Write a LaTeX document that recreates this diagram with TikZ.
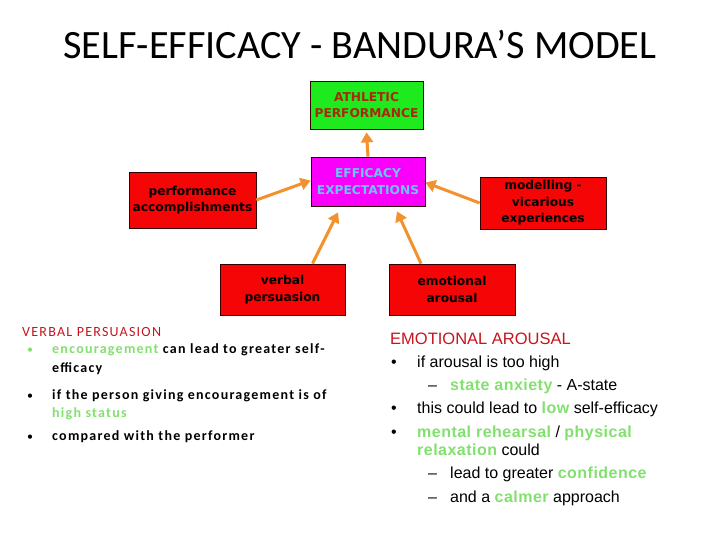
\documentclass[tikz,border=0pt]{standalone}
\usepackage{fontspec}
\setmainfont{Carlito}
\newfontfamily\boxfont{DejaVu Sans}
\newfontfamily\tahfont{Liberation Sans}
\newfontfamily\tahbfont[LetterSpace=3]{Liberation Sans}
\newfontfamily\lfont[LetterSpace=9]{Carlito}
\newfontfamily\lhfont[LetterSpace=9]{Carlito}
\usetikzlibrary{arrows.meta,calc}
\definecolor{boxred}{RGB}{245,5,5}
\definecolor{boxgreen}{RGB}{30,235,30}
\definecolor{boxmag}{RGB}{250,0,250}
\definecolor{arrorange}{RGB}{242,145,45}
\definecolor{athtext}{RGB}{170,40,10}
\definecolor{efftext}{RGB}{100,200,255}
\definecolor{headred}{RGB}{200,20,30}
\definecolor{hlgreen}{RGB}{130,225,110}
\tikzset{
  x=1pt,y=-1pt,
  box/.style={draw=black!80!red,line width=0.8pt,fill=boxred,align=center,
    font=\boxfont\bfseries\fontsize{12.2}{16.5}\selectfont,inner sep=0pt},
  arr/.style={draw=arrorange,line width=3pt,-{Triangle[length=10pt,width=12pt]}},
  ltxt/.style={anchor=base west,inner sep=0pt,font=\lfont\fontsize{14}{15}\selectfont\bfseries},
  lbul/.style={anchor=base west,inner sep=0pt,font=\fontsize{12}{15}\selectfont},
  rtxt/.style={anchor=base west,inner sep=0pt,font=\tahfont\fontsize{16}{18}\selectfont},
}
\newcommand{\hl}[1]{\textcolor{hlgreen}{#1}}
\newcommand{\hlb}[1]{\textcolor{hlgreen}{\tahbfont\bfseries #1}}
\begin{document}
\begin{tikzpicture}
\useasboundingbox[fill=white] (0,0) rectangle (720,540);
\node[anchor=base,inner sep=0pt,font=\fontsize{40.2}{42}\selectfont] (title) at (360,59) {SELF-EFFICACY - BANDURA’S MODEL};

\node[box,fill=boxgreen,text=athtext,minimum width=113pt,minimum height=48pt] (ath) at (366.5,105) {ATHLETIC\\PERFORMANCE};
\node[box,fill=boxmag,text=efftext,minimum width=114pt,minimum height=49pt] (eff) at (368,181.5) {EFFICACY\\EXPECTATIONS};
\node[box,minimum width=127pt,minimum height=56pt] (perf) at (192.5,200) {performance\\accomplishments};
\node[box,minimum width=126pt,minimum height=52pt] (model) at (543,203) {modelling -\\vicarious\\experiences};
\node[box,minimum width=125pt,minimum height=51pt] (verbal) at (282.5,289.5) {verbal\\persuasion};
\node[box,minimum width=126pt,minimum height=51pt] (emo) at (452,289.5) {emotional\\arousal};

\draw[arr] (eff.north) -- ($(ath.south)+(0,3)$);
\draw[arr] (perf.east) -- ($(eff.west)+(0,-1)$);
\draw[arr] (model.west) -- ($(eff.east)+(0,1)$);
\draw[arr] ($(verbal.north)+(30,0)$) -- ($(eff.south)+(-30,6)$);
\draw[arr] ($(emo.north)+(-31,0)$) -- ($(eff.south)+(29,5)$);

% left text
\node[anchor=base west,inner sep=0pt,font=\lhfont\fontsize{14}{15}\selectfont,text=headred] (vh) at (22,336) {VERBAL PERSUASION};
\node[lbul,text=hlgreen] at (27,353) {•};
\foreach \y in {399,440} \node[lbul] at (27,\y) {•};
\node[ltxt] (l1) at (52,353) {\hl{encouragement} can lead to greater self-};
\node[ltxt] (l2) at (52,372) {efficacy};
\node[ltxt] (l3) at (52,399) {if the person giving encouragement is of};
\node[ltxt] (l4) at (52,417) {\hl{high status}};
\node[ltxt] (l5) at (52,440) {compared with the performer};

% right text
\node[anchor=base west,inner sep=0pt,font=\tahfont\fontsize{16.5}{18}\selectfont,text=headred] (eh) at (390,344) {EMOTIONAL AROUSAL};
\foreach \y in {367,413,437} \node[rtxt] at (391,\y) {•};
\node[rtxt] (r1) at (417,367) {if arousal is too high};
\node[rtxt] at (428,390) {–};
\node[rtxt] (r2) at (450,390) {\hlb{state anxiety} - A-state};
\node[rtxt] (r3) at (417,413) {this could lead to \hlb{low} self-efficacy};
\node[rtxt] (r4) at (417,437) {\hlb{mental rehearsal} / \hlb{physical}};
\node[rtxt] (r5) at (417,455) {\hlb{relaxation} could};
\node[rtxt] at (428,478) {–};
\node[rtxt] (r6) at (450,478) {lead to greater \hlb{confidence}};
\node[rtxt] at (428,502) {–};
\node[rtxt] (r7) at (450,502) {and a \hlb{calmer} approach};
\end{tikzpicture}
\end{document}
